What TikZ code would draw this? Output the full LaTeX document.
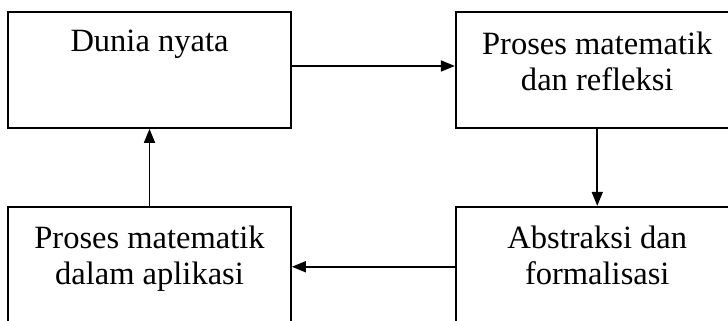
\documentclass[tikz,border=0pt]{standalone}
\usepackage{fontspec}
\setmainfont{Liberation Serif}
\usetikzlibrary{arrows.meta}
\usetikzlibrary{positioning}

\begin{document}
\begin{tikzpicture}[line width=1pt,
box/.style={draw,minimum width=5.66cm,minimum height=2.32cm},
lbl/.style={align=center,inner sep=0pt,font=\fontsize{18.5}{20.5}\selectfont},
>={Triangle[length=2.8mm,width=2.2mm]}]
\useasboundingbox (0,0) rectangle (14.56,-6.42);
\clip (0,0) rectangle (14.56,-6.42);
\node[box] (dunia) at (2.99,-1.4) {};
\node[box,right=3.26cm of dunia] (refleksi) {};
\node[box,minimum height=2.4cm,below=1.54cm of dunia] (aplikasi) {};
\node[box,minimum height=2.4cm,below=1.54cm of refleksi] (abstraksi) {};
\node[lbl,below=0.36cm of dunia.north] (t1) {Dunia nyata};
\node[lbl,below=0.4cm of refleksi.north] (t2) {Proses matematik\\dan refleksi};
\node[lbl,below=0.38cm of aplikasi.north] (t3) {Proses matematik\\dalam aplikasi};
\node[lbl,below=0.38cm of abstraksi.north] (t4) {Abstraksi dan\\formalisasi};
\draw[->] ([yshift=0.08cm]dunia.east) -- ([yshift=0.08cm]refleksi.west);
\draw[->] (refleksi.south) -- (abstraksi.north);
\draw[->] (abstraksi.west) -- (aplikasi.east);
\draw[->] (aplikasi.north) -- (dunia.south);
\end{tikzpicture}
\end{document}
